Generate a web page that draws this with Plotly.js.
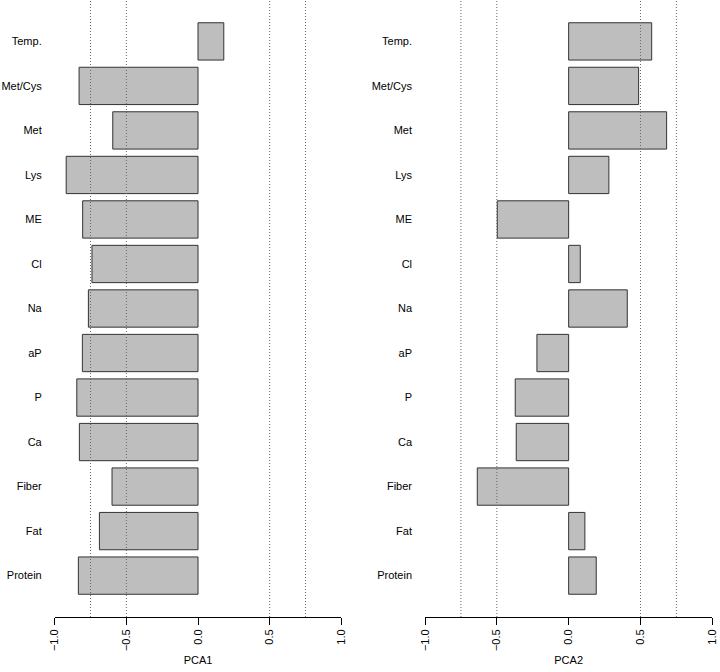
<!DOCTYPE html>
<html>
<head>
<meta charset="utf-8">
<script src="https://cdn.plot.ly/plotly-3.0.1.min.js"></script>
<style>html,body{margin:0;padding:0;background:#fff;}#chart{width:720px;height:672px;}</style>
</head>
<body>
<div id="chart"></div>
<script>
const categories = ["Protein","Fat","Fiber","Ca","P","aP","Na","Cl","ME","Lys","Met","Met/Cys","Temp."];
const pca1 = [-0.835,-0.688,-0.600,-0.828,-0.846,-0.807,-0.765,-0.740,-0.805,-0.920,-0.595,-0.830,0.180];
const pca2 = [0.192,0.113,-0.636,-0.365,-0.372,-0.221,0.408,0.081,-0.497,0.280,0.682,0.487,0.578];
const tickVals = [-1,-0.5,0,0.5,1];
const tickText = ["\u22121.0","\u22120.5","0.0","0.5","1.0"];
const refLines = [-0.75,-0.5,0.5,0.75];

const font = {family:"Liberation Sans, Arial, Helvetica, sans-serif", size:11, color:"#000"};
const barStyle = {color:"#bebebe", line:{color:"#333", width:1}};

const traces = [
  {type:"bar", orientation:"h", y:categories, x:pca1, marker:barStyle, xaxis:"x", yaxis:"y", hoverinfo:"x+y"},
  {type:"bar", orientation:"h", y:categories, x:pca2, marker:barStyle, xaxis:"x2", yaxis:"y2", hoverinfo:"x+y"}
];

function xax(domain, title){
  return {domain:domain, range:[-1,1], tickvals:tickVals, ticktext:tickText, tickangle:-90,
    ticks:"outside", ticklen:7, tickcolor:"#000", showline:true, linecolor:"#000", linewidth:1,
    showgrid:false, zeroline:false, fixedrange:true, tickfont:font,
    title:{text:title, font:{family:font.family, size:11, color:"#000"}, standoff:6}};
}
function yax(anchor){
  return {type:"category", categoryorder:"array", categoryarray:categories, range:[-0.93,12.93],
    showline:false, showgrid:false, zeroline:false, ticks:"", tickfont:font, anchor:anchor,
    ticklabelstandoff:12, fixedrange:true};
}

const shapes = [];
refLines.forEach(v => {
  shapes.push({type:"line", xref:"x", yref:"paper", x0:v, x1:v, y0:0, y1:1, line:{color:"#666", width:1, dash:"1px,2px"}, layer:"above"});
  shapes.push({type:"line", xref:"x2", yref:"paper", x0:v, x1:v, y0:0, y1:1, line:{color:"#666", width:1, dash:"1px,2px"}, layer:"above"});
});

const layout = {
  width:720, height:672, margin:{l:0, r:0, t:0, b:55},
  paper_bgcolor:"#fff", plot_bgcolor:"rgba(0,0,0,0)",
  showlegend:false, bargap:0.162, font:font,
  xaxis: xax([0.0760,0.4740], "PCA1"),
  xaxis2: xax([0.5903,0.9893], "PCA2"),
  yaxis: yax("x"),
  yaxis2: yax("x2"),
  shapes: shapes
};
layout.xaxis.anchor = "y";
layout.xaxis2.anchor = "y2";

Plotly.newPlot("chart", traces, layout, {displayModeBar:false, staticPlot:true});
</script>
</body>
</html>
